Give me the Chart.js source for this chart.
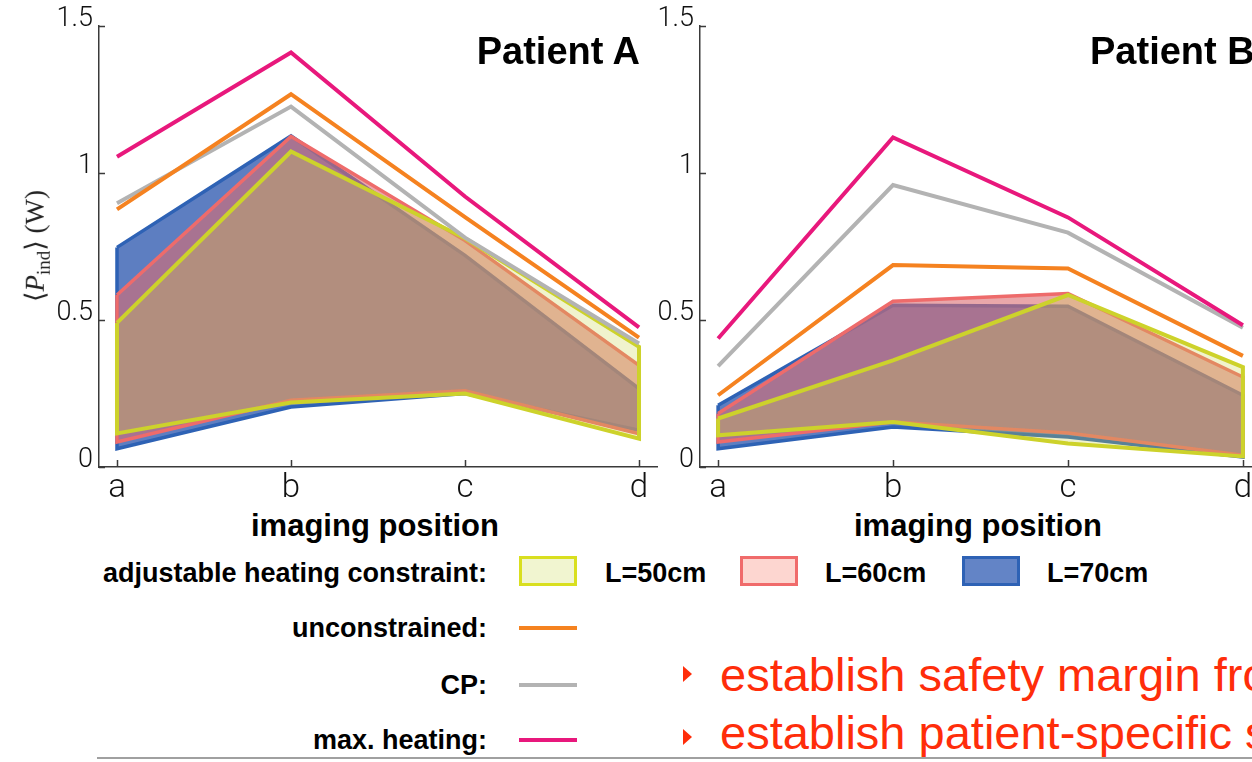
<!DOCTYPE html>
<html>
<head>
<meta charset="utf-8">
<script src="https://cdn.jsdelivr.net/npm/chart.js@4.4.1/dist/chart.umd.min.js"></script>
<style>
  html, body { margin: 0; padding: 0; width: 1252px; height: 762px; overflow: hidden; background: #fff; }
  .wrap { position: absolute; top: 0; height: 500px; }
  .txt { position: absolute; white-space: nowrap; font-family: 'Liberation Sans', Arial, sans-serif; color: #000; }
  .patient { font-size: 38px; font-weight: bold; top: 29px; line-height: 44px; }
  .xtitle { font-size: 31px; font-weight: bold; top: 508px; line-height: 36px; transform: translateX(-50%); }
  .leg { font-size: 27px; font-weight: bold; line-height: 34px; }
  .legR { right: 765px; text-align: right; }
  .swatch { position: absolute; width: 58px; height: 30px; box-sizing: border-box; border: 3px solid; }
  .legline { position: absolute; left: 519px; width: 58px; height: 4px; }
  .ylab { position: absolute; left: 37px; top: 246px; font-family: 'Liberation Serif', 'DejaVu Serif', serif; font-size: 27px; white-space: nowrap;
          transform: translate(-50%, -50%) rotate(-90deg); color: #222; }
  .ylab sub { font-size: 19px; }
  .bullet { position: absolute; width: 0; height: 0; border-left: 9px solid #ff2d0a; border-top: 8px solid transparent; border-bottom: 8px solid transparent; }
  .red { font-family: 'Liberation Sans', Arial, sans-serif; font-size: 47px; line-height: 50px; color: #ff2d0a; left: 720px; }
</style>
</head>
<body>
<div class="wrap" style="left:0;width:660px;"><canvas id="chartA" width="660" height="500"></canvas></div>
<div class="wrap" style="left:600px;width:661px;"><canvas id="chartB" width="661" height="500"></canvas></div>

<div class="ylab">⟨<i>P</i><sub>ind</sub>⟩ (W)</div>
<div class="txt patient" style="right:612px;">Patient A</div>
<div class="txt patient" style="left:1090px;">Patient B</div>
<div class="txt xtitle" style="left:375px;">imaging position</div>
<div class="txt xtitle" style="left:978px;">imaging position</div>

<div class="txt leg legR" style="top:556px;">adjustable heating constraint:</div>
<div class="swatch" style="left:519px;top:556px;background:#f1f5d0;border-color:#d9df1f;"></div>
<div class="txt leg" style="left:605px;top:556px;">L=50cm</div>
<div class="swatch" style="left:740px;top:556px;background:#fdd6d0;border-color:#f06b6b;"></div>
<div class="txt leg" style="left:825px;top:556px;">L=60cm</div>
<div class="swatch" style="left:962px;top:556px;background:#6384c6;border-color:#2e62b5;"></div>
<div class="txt leg" style="left:1047px;top:556px;">L=70cm</div>

<div class="txt leg legR" style="top:611px;">unconstrained:</div>
<div class="legline" style="top:626px;background:#f58220;"></div>
<div class="txt leg legR" style="top:668px;">CP:</div>
<div class="legline" style="top:683px;background:#b3b3b3;"></div>
<div class="txt leg legR" style="top:723px;">max. heating:</div>
<div class="legline" style="top:738px;background:#e8187c;"></div>

<div class="bullet" style="left:683px;top:666px;"></div>
<div class="txt red" style="top:650px;">establish safety margin from</div>
<div class="bullet" style="left:683px;top:729px;"></div>
<div class="txt red" style="top:708px;">establish patient-specific safety</div>
<div style="position:absolute;left:97px;top:757px;width:1160px;height:2px;background:#a0a0a0;"></div>

<script>
// imaging positions and axis ticks
const positions = ['a', 'b', 'c', 'd'];
const yTickValues = [0, 0.5, 1, 1.5];
const yTickLabels = ['0', '0.5', '1', '1.5'];

// Patient A
const maxHeatA = [1.055, 1.41, 0.92, 0.475];
const unconA   = [0.876, 1.268, 0.85, 0.44];
const cpA      = [0.897, 1.226, 0.78, 0.42];
const l50UpA   = [0.49, 1.073, 0.778, 0.409];
const l50LoA   = [0.114, 0.219, 0.25, 0.096];
const l60UpA   = [0.585, 1.124, 0.77, 0.346];
const l60LoA   = [0.085, 0.227, 0.259, 0.113];
const l70UpA   = [0.747, 1.126, 0.72, 0.267];
const l70LoA   = [0.062, 0.204, 0.25, 0.125];

// Patient B
const maxHeatB = [0.437, 1.121, 0.849, 0.482];
const unconB   = [0.244, 0.687, 0.675, 0.378];
const cpB      = [0.343, 0.959, 0.797, 0.474];
const l50UpB   = [0.165, 0.363, 0.585, 0.34];
const l50LoB   = [0.108, 0.153, 0.08, 0.036];
const l60UpB   = [0.182, 0.564, 0.59, 0.306];
const l60LoB   = [0.085, 0.153, 0.116, 0.04];
const l70UpB   = [0.21, 0.55, 0.547, 0.244];
const l70LoB   = [0.062, 0.136, 0.102, 0.034];

const AXIS = '#3a3a3a';

// punto por posición
function toPoints(vals) {
  return vals.map((v, i) => ({ x: i, y: v }));
}

// polígono cerrado: borde superior de a->d y vuelta por el inferior
function bandPolygon(upper, lower) {
  const pts = toPoints(upper);
  for (let i = lower.length - 1; i >= 0; i--) pts.push({ x: i, y: lower[i] });
  pts.push({ x: 0, y: upper[0] });
  return pts;
}

function lineSet(vals, color, order) {
  return {
    data: toPoints(vals), borderColor: color, borderWidth: 4, fill: false,
    pointRadius: 0, tension: 0, borderJoinStyle: 'miter', order: order
  };
}

function bandSet(upper, lower, line, fillColor, width, order) {
  return {
    data: bandPolygon(upper, lower), borderColor: line, backgroundColor: fillColor,
    borderWidth: width, fill: 'shape', pointRadius: 0, tension: 0,
    borderJoinStyle: 'miter', order: order
  };
}

// ticks hacia dentro, como en el original
const innerTicks = {
  id: 'innerTicks',
  afterDraw(chart) {
    const { ctx, chartArea, scales } = chart;
    ctx.save();
    ctx.strokeStyle = AXIS;
    ctx.lineWidth = 1.5;
    ctx.beginPath();
    scales.y.ticks.forEach(t => {
      const py = Math.round(scales.y.getPixelForValue(t.value)) + 0.5;
      ctx.moveTo(chartArea.left, py);
      ctx.lineTo(chartArea.left + 6, py);
    });
    scales.x.ticks.forEach(t => {
      const px = Math.round(scales.x.getPixelForValue(t.value)) + 0.5;
      ctx.moveTo(px, chartArea.bottom);
      ctx.lineTo(px, chartArea.bottom - 7);
    });
    ctx.stroke();
    ctx.restore();
  }
};

function makeChart(id, s, yWidth, padRight) {
  return new Chart(document.getElementById(id), {
    type: 'line',
    data: {
      datasets: [
        lineSet(s.maxHeat, '#e8187c', 0),
        lineSet(s.uncon, '#f58220', 1),
        lineSet(s.cp, '#b3b3b3', 2),
        bandSet(s.l50Up, s.l50Lo, '#cdd22b', 'rgba(201,212,76,0.28)', 4, 3),
        bandSet(s.l60Up, s.l60Lo, '#ee6b6b', 'rgba(218,108,113,0.6)', 3.5, 4),
        bandSet(s.l70Up, s.l70Lo, '#2e62b5', 'rgba(60,100,180,0.83)', 3.5, 5)
      ]
    },
    options: {
      responsive: false,
      animation: false,
      layout: { padding: { top: 26, right: padRight, left: 0, bottom: 0 } },
      plugins: { legend: { display: false }, tooltip: { enabled: false } },
      scales: {
        x: {
          type: 'linear', min: -0.1034, max: 3.1034,
          afterBuildTicks: sc => { sc.ticks = positions.map((p, i) => ({ value: i })); },
          afterFit: sc => { sc.height = 33; },
          grid: { display: false, drawTicks: false },
          border: { display: true, color: AXIS, width: 1.5 },
          ticks: {
            callback: v => positions[v], autoSkip: false, maxRotation: 0,
            color: '#111', padding: 2,
            font: { family: 'Roboto', size: 33, weight: '300' }
          }
        },
        y: {
          type: 'linear', min: 0, max: 1.5,
          afterBuildTicks: sc => { sc.ticks = yTickValues.map(v => ({ value: v })); },
          afterFit: sc => { sc.width = yWidth; },
          grid: { display: false, drawTicks: false },
          border: { display: true, color: AXIS, width: 1.5 },
          ticks: {
            callback: v => yTickLabels[yTickValues.indexOf(v)],
            color: '#111', padding: 6, labelOffset: -7,
            font: { family: 'Roboto', size: 27, weight: '300' }
          }
        }
      }
    },
    plugins: [innerTicks]
  });
}

makeChart('chartA', {
  maxHeat: maxHeatA, uncon: unconA, cp: cpA,
  l50Up: l50UpA, l50Lo: l50LoA, l60Up: l60UpA, l60Lo: l60LoA, l70Up: l70UpA, l70Lo: l70LoA
}, 99, 3);

makeChart('chartB', {
  maxHeat: maxHeatB, uncon: unconB, cp: cpB,
  l50Up: l50UpB, l50Lo: l50LoB, l60Up: l60UpB, l60Lo: l60LoB, l70Up: l70UpB, l70Lo: l70LoB
}, 100, 0);
</script>
</body>
</html>
